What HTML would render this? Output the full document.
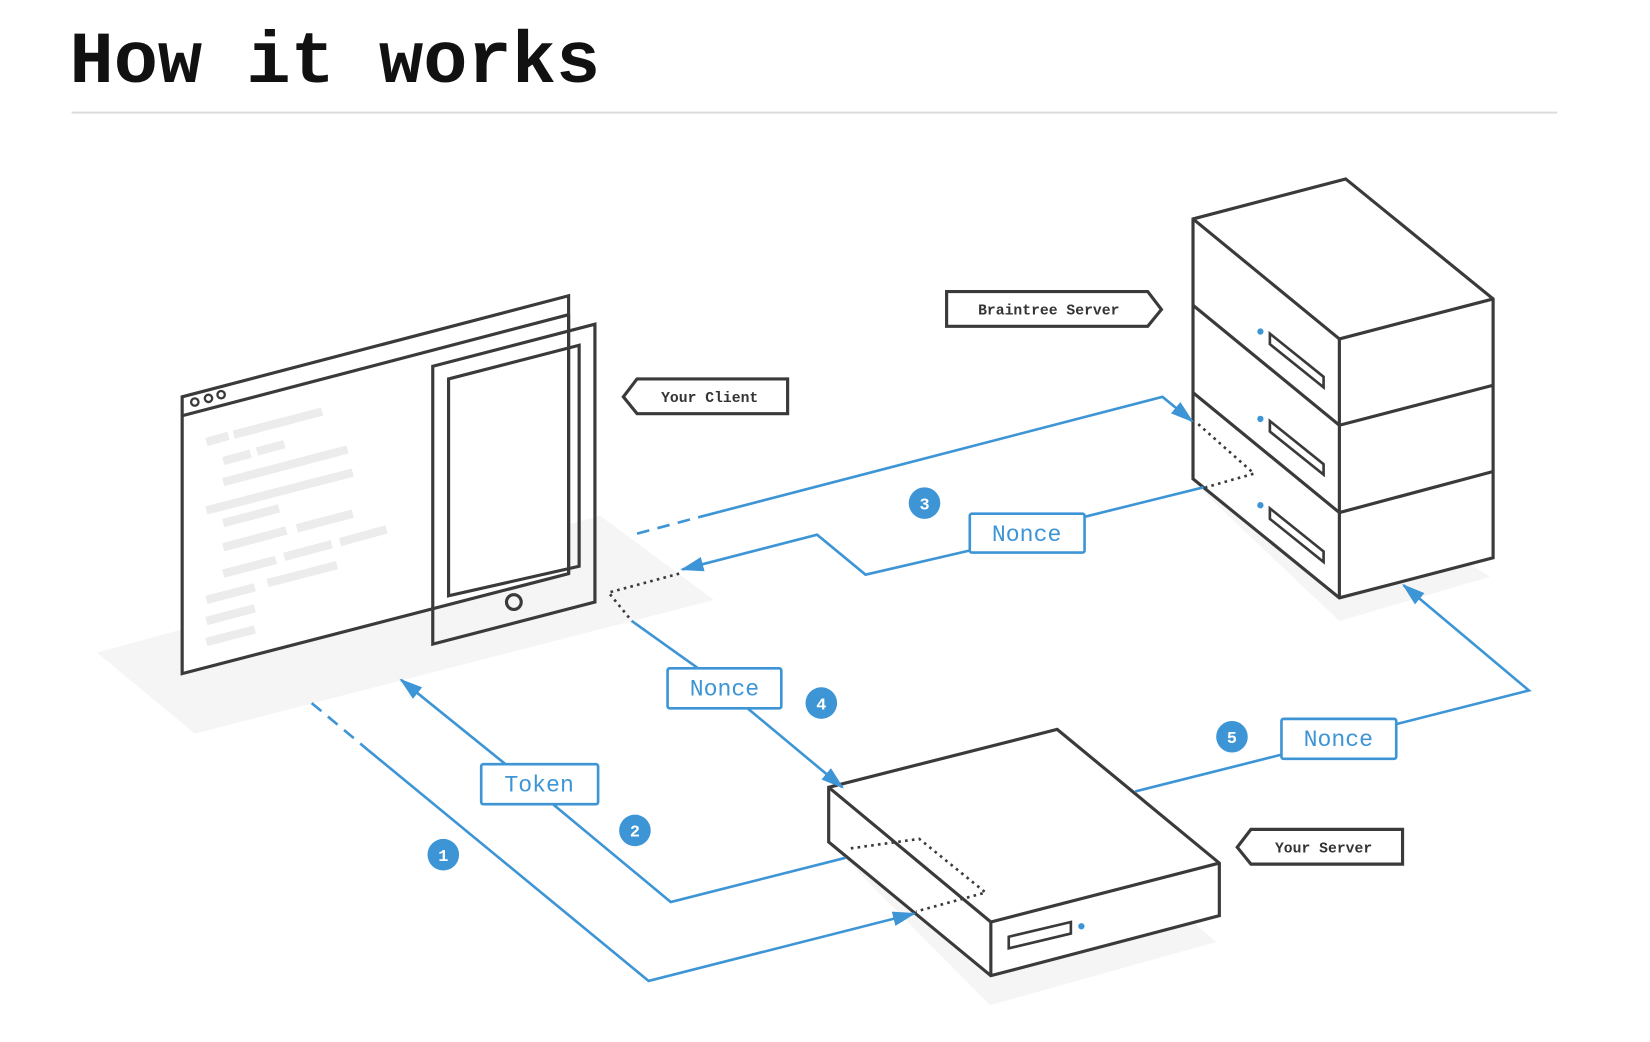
<!DOCTYPE html>
<html><head><meta charset="utf-8"><style>
html,body{margin:0;padding:0;background:#fff;width:1650px;height:1042px;overflow:hidden}
svg{display:block}
</style></head><body>
<svg width="1650" height="1042" viewBox="0 0 1567 990" preserveAspectRatio="none" xmlns="http://www.w3.org/2000/svg">
<defs>
<marker id="ahb" markerWidth="22" markerHeight="16" refX="20" refY="8" orient="auto" markerUnits="userSpaceOnUse" viewBox="0 0 22 16">
<path d="M0,1 L22,8 L0,15 z" fill="#3d95d6"/>
</marker>
</defs>
<text x="66" y="78" font-family="Liberation Mono, monospace" font-weight="bold" font-size="70" textLength="504" lengthAdjust="spacingAndGlyphs" fill="#111">How it works</text>
<line x1="68" y1="107" x2="1479" y2="107" stroke="#dcdcdc" stroke-width="2"/>

<polygon points="92,620 570,490 678,570 185,697" fill="#f5f5f5"/>
<polygon points="1135,460 1272,590 1415,548 1290,470" fill="#f5f5f5"/>
<polygon points="787,800 940,955 1155,895 1000,760" fill="#f5f5f5"/>

<g fill="none" stroke="#3a3a3a" stroke-width="3" stroke-linejoin="miter">
<polygon points="173,377 540,281 540,545 173,640" fill="#fff"/>
<line x1="173" y1="395" x2="540" y2="299"/>
<circle cx="185" cy="382" r="3.5" stroke-width="2.2"/>
<circle cx="198" cy="378.5" r="3.5" stroke-width="2.2"/>
<circle cx="210" cy="375" r="3.5" stroke-width="2.2"/>
</g>
<g stroke="#ececec" stroke-width="8" fill="none">
<line x1="196" y1="420" x2="217" y2="414"/><line x1="222" y1="413" x2="306" y2="391"/>
<line x1="212" y1="438" x2="238" y2="431"/><line x1="244" y1="429" x2="270" y2="422"/>
<line x1="212" y1="458" x2="330" y2="427"/>
<line x1="196" y1="485" x2="335" y2="449"/>
<line x1="212" y1="497" x2="265" y2="483"/>
<line x1="212" y1="520" x2="272" y2="504"/><line x1="282" y1="502" x2="335" y2="488"/>
<line x1="212" y1="545" x2="262" y2="532"/><line x1="270" y1="529" x2="315" y2="517"/><line x1="323" y1="515" x2="367" y2="503"/>
<line x1="196" y1="570" x2="242" y2="558"/><line x1="254" y1="554" x2="320" y2="537"/>
<line x1="196" y1="590" x2="242" y2="578"/>
<line x1="196" y1="610" x2="242" y2="598"/>
</g>
<g fill="none" stroke="#3a3a3a" stroke-width="3">
<polygon points="411,348 565,308 565,572 411,612"/>
<polygon points="426,360 550,328 550,538 426,566"/>
<line x1="540" y1="299" x2="540" y2="545"/>
<circle cx="488" cy="572" r="7"/>
</g>

<g fill="#fff" stroke="#3a3a3a" stroke-width="3" stroke-linejoin="miter">
<polygon points="1133,208 1278,170 1418,284 1418,530 1272,568 1133,455"/>
<line x1="1133" y1="208" x2="1272" y2="322"/>
<line x1="1272" y1="322" x2="1418" y2="284"/>
<line x1="1272" y1="322" x2="1272" y2="568"/>
<line x1="1133" y1="290" x2="1272" y2="404"/>
<line x1="1133" y1="373" x2="1272" y2="487"/>
<line x1="1272" y1="404" x2="1418" y2="366"/>
<line x1="1272" y1="487" x2="1418" y2="448"/>
<polygon points="1206,317 1257,358 1257,368 1206,327" stroke-width="2.5"/>
<polygon points="1206,400 1257,441 1257,451 1206,410" stroke-width="2.5"/>
<polygon points="1206,483 1257,524 1257,534 1206,493" stroke-width="2.5"/>
</g>
<circle cx="1197" cy="315" r="3" fill="#3d95d6"/>
<circle cx="1197" cy="398" r="3" fill="#3d95d6"/>
<circle cx="1197" cy="480" r="3" fill="#3d95d6"/>

<g fill="#fff" stroke="#3a3a3a" stroke-width="3">
<polygon points="787,748 1004,693 1158,820 1158,870 941,927 787,800"/>
<line x1="787" y1="748" x2="941" y2="876"/>
<line x1="941" y1="876" x2="1158" y2="820"/>
<line x1="941" y1="876" x2="941" y2="927"/>
<polygon points="958,890 1017,876 1017,887 958,901" stroke-width="2.5"/>
</g>
<circle cx="1027" cy="880" r="3" fill="#3d95d6"/>

<g fill="none" stroke="#3a3a3a" stroke-width="2.5" stroke-dasharray="2.5,4">
<polyline points="808,806 873,797 936,848 870,866"/>
<polyline points="1138,403 1191,450 1145,463"/>
<polyline points="645,545 578,563 600,590"/>
</g>

<g fill="none" stroke="#3d95d6" stroke-width="2.5">
<line x1="296" y1="668" x2="350" y2="713" stroke-dasharray="12,8"/>
<polyline points="350,713 616,932 868,868" marker-end="url(#ahb)"/>
<polyline points="803,815 637,857 525,764"/>
<line x1="480" y1="726" x2="381" y2="646" marker-end="url(#ahb)"/>
<line x1="605" y1="507" x2="665" y2="491" stroke-dasharray="12,8"/>
<polyline points="665,491 1104,377 1132,400" marker-end="url(#ahb)"/>
<polyline points="1143,463 1030,491"/>
<polyline points="921,523 822,546 776,508 648,541" marker-end="url(#ahb)"/>
<line x1="600" y1="590" x2="663" y2="635"/>
<line x1="710" y1="673" x2="800" y2="748" marker-end="url(#ahb)"/>
<line x1="1078" y1="752" x2="1217" y2="717"/>
<polyline points="1326,688 1452,656 1333,556" marker-end="url(#ahb)"/>
</g>

<g fill="#fff" stroke="#3d95d6" stroke-width="2.5">
<rect x="457" y="726" width="111" height="38" rx="2"/>
<rect x="921" y="488" width="109" height="37" rx="2"/>
<rect x="634" y="635" width="108" height="38" rx="2"/>
<rect x="1217" y="683" width="109" height="38" rx="2"/>
</g>
<g font-family="Liberation Mono, monospace" font-size="22" fill="#3d95d6" text-anchor="middle">
<text x="512" y="752">Token</text>
<text x="975" y="514">Nonce</text>
<text x="688" y="661">Nonce</text>
<text x="1271" y="709">Nonce</text>
</g>

<g fill="#3d95d6">
<circle cx="421" cy="812" r="15"/><circle cx="603" cy="789" r="15"/>
<circle cx="878" cy="478" r="15"/><circle cx="780" cy="668" r="15"/>
<circle cx="1170" cy="700" r="15"/>
</g>
<g font-family="Liberation Mono, monospace" font-weight="bold" font-size="16" fill="#fff" text-anchor="middle">
<text x="421" y="818">1</text><text x="603" y="795">2</text>
<text x="878" y="484">3</text><text x="780" y="674">4</text>
<text x="1170" y="706">5</text>
</g>

<g fill="#fff" stroke="#3a3a3a" stroke-width="3">
<polygon points="899,277 1090,277 1103,294 1090,310 899,310"/>
<polygon points="605,360 748,360 748,393 605,393 592,377"/>
<polygon points="1188,788 1332,788 1332,821 1188,821 1175,805"/>
</g>
<g font-family="Liberation Mono, monospace" font-weight="bold" font-size="14" fill="#333" text-anchor="middle">
<text x="996" y="299">Braintree Server</text>
<text x="674" y="382">Your Client</text>
<text x="1257" y="810">Your Server</text>
</g>
</svg>
</body></html>
